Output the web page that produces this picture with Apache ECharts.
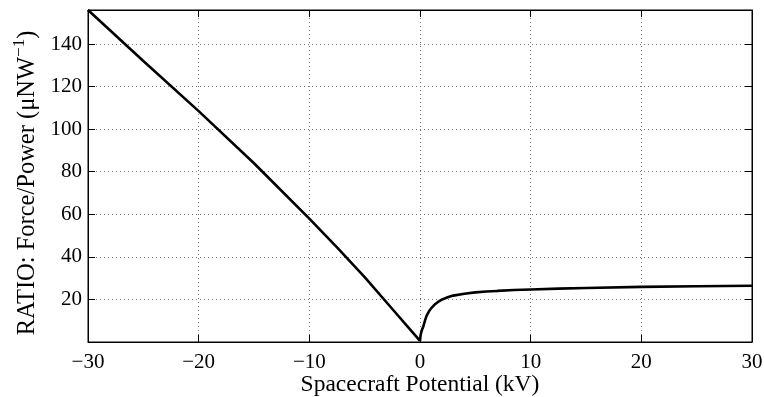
<!DOCTYPE html>
<html>
<head>
<meta charset="utf-8">
<script src="https://cdn.jsdelivr.net/npm/echarts@6/dist/echarts.min.js"></script>
<style>
html,body{margin:0;padding:0;background:#fff;}
#c{width:764px;height:397px;}
</style>
</head>
<body>
<div id="c"></div>
<script>
// Data
var leftX = [-30, -25, -20, -15, -10, -7.5, -5, -2.5, -1, 0];
var leftY = [156, 132, 108.5, 84, 58, 44.5, 30.5, 15.5, 6.5, 0.5];
var rightX = [0, 0.05, 0.1, 0.2, 0.3, 0.45, 0.6, 0.8, 1, 1.3, 1.6, 2, 2.5, 3, 4, 5, 6, 7, 8.5, 10, 12.5, 15, 20, 25, 30];
var rightY = [0.5, 3, 4.3, 6, 7.3, 10, 12.4, 14.3, 15.8, 17.5, 18.7, 20, 21, 21.8, 22.7, 23.3, 23.7, 24, 24.4, 24.7, 25.1, 25.4, 25.9, 26.2, 26.4];
var xTicks = [-30, -20, -10, 0, 10, 20, 30];
var yTicks = [20, 40, 60, 80, 100, 120, 140];

function pairs(xs, ys){ return xs.map(function(x,i){ return [x, ys[i]]; }); }

var FONT = 'Liberation Serif';
var chart = echarts.init(document.getElementById('c'), null, {renderer:'canvas'});
var gridDots = {show:true, lineStyle:{color:'#777', width:1, type:[1,3]}, showMinLine:false, showMaxLine:false};

chart.setOption({
  animation:false,
  backgroundColor:'#fff',
  grid:{left:88, right:12, top:10, bottom:55, show:true, borderColor:'#000', borderWidth:1, backgroundColor:'transparent', containLabel:false, outerBoundsMode:'none'},
  xAxis:[{
    type:'value', min:-30, max:30, interval:10, position:'bottom',
    axisLine:{show:true, onZero:false, lineStyle:{color:'#000', width:1}},
    axisTick:{show:true, inside:true, length:7, lineStyle:{color:'#000'}},
    axisLabel:{show:true, margin:10, color:'#000', fontFamily:FONT, fontSize:21,
      formatter:function(v){ return xTicks.indexOf(v) >= 0 ? String(v).replace('-', '\u2212') : ''; }},
    splitLine:gridDots,
    name:'Spacecraft Potential (kV)', nameLocation:'middle', nameGap:31, nameMoveOverlap:false,
    nameTextStyle:{color:'#000', fontFamily:FONT, fontSize:23.5}
  },{
    type:'value', min:-30, max:30, interval:10, position:'top',
    axisLine:{show:true, onZero:false, lineStyle:{color:'#000', width:1}},
    axisTick:{show:true, inside:true, length:7, lineStyle:{color:'#000'}},
    axisLabel:{show:false}, splitLine:{show:false}
  }],
  yAxis:[{
    type:'value', min:0, max:156, interval:20, position:'left',
    axisLine:{show:true, onZero:false, lineStyle:{color:'#000', width:1}},
    axisTick:{show:true, inside:true, length:7, lineStyle:{color:'#000'}},
    axisLabel:{show:true, margin:6, color:'#000', fontFamily:FONT, fontSize:21,
      formatter:function(v){ return yTicks.indexOf(v) >= 0 ? String(v) : ''; }},
    splitLine:gridDots,
    name:'{a|RATIO: Force/Power (\u03bcNW}{s|\u22121}{a|)}', nameLocation:'middle', nameGap:48, nameMoveOverlap:false,
    nameTextStyle:{color:'#000', fontFamily:FONT, fontSize:24.5, padding:[0, 14, 0, 0],
      rich:{
        a:{fontFamily:FONT, fontSize:24.5, color:'#000', lineHeight:29, verticalAlign:'bottom'},
        s:{fontFamily:FONT, fontSize:17, color:'#000', lineHeight:29, verticalAlign:'top'}
      }}
  },{
    type:'value', min:0, max:156, interval:20, position:'right',
    axisLine:{show:true, onZero:false, lineStyle:{color:'#000', width:1}},
    axisTick:{show:true, inside:true, length:7, lineStyle:{color:'#000'}},
    axisLabel:{show:false}, splitLine:{show:false}
  }],
  series:[{
    type:'line', xAxisIndex:0, yAxisIndex:0, data:pairs(leftX, leftY),
    showSymbol:false, symbol:'none', smooth:false,
    lineStyle:{color:'#000', width:2.6}, z:5
  },{
    type:'line', xAxisIndex:0, yAxisIndex:0, data:pairs(rightX, rightY),
    showSymbol:false, symbol:'none', smooth:false,
    lineStyle:{color:'#000', width:2.6}, z:5
  }]
});
</script>
</body>
</html>
